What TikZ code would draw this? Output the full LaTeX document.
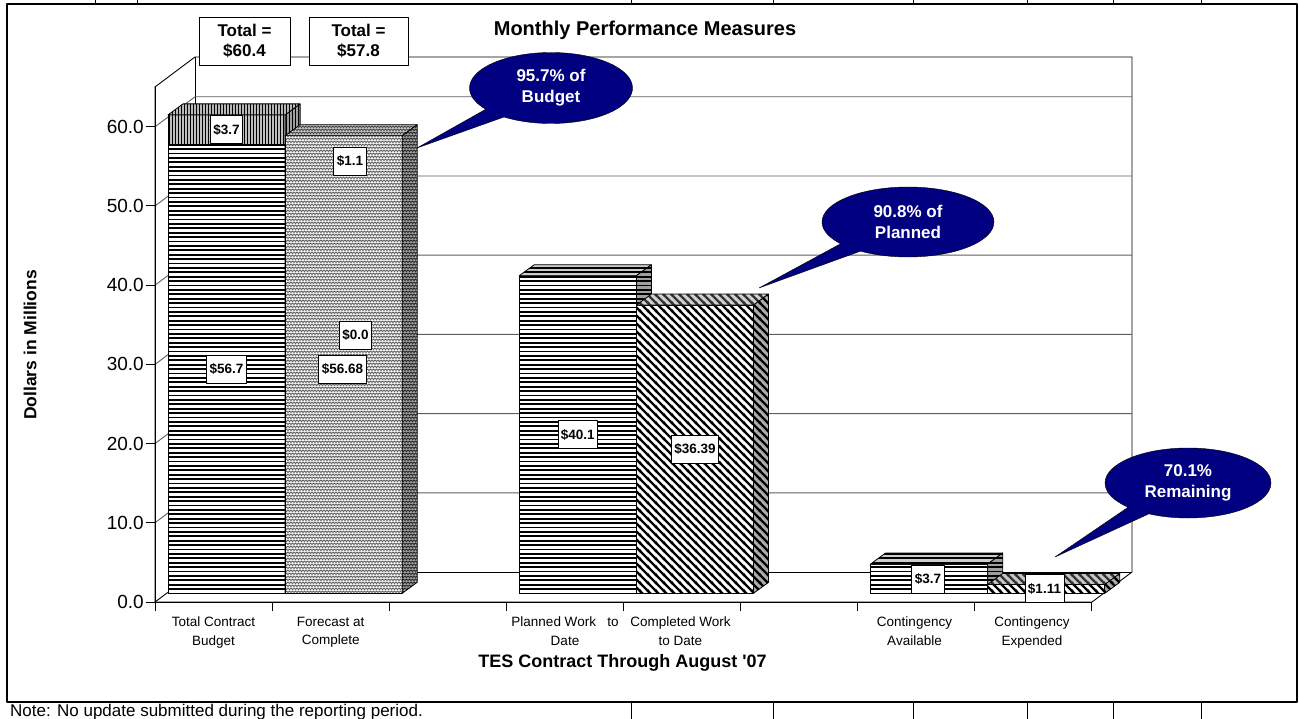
\documentclass[tikz,border=0pt]{standalone}
\usepackage{fontspec}
\setmainfont{Liberation Sans}
\usetikzlibrary{patterns,shapes.callouts}

\definecolor{navy}{RGB}{0,0,128}
\definecolor{gridgray}{RGB}{95,95,95}

% fill patterns of the bars
\pgfdeclarepatternformonly{hstripe}{\pgfpoint{-1pt}{-1pt}}{\pgfpoint{5.4pt}{5.4pt}}{\pgfpoint{4.4pt}{4.4pt}}{%
  \pgfsetlinewidth{1.8pt}%
  \pgfpathmoveto{\pgfpoint{-1pt}{2.2pt}}\pgfpathlineto{\pgfpoint{5.4pt}{2.2pt}}%
  \pgfusepath{stroke}}
\pgfdeclarepatternformonly{vstripe}{\pgfpoint{-1pt}{-1pt}}{\pgfpoint{4pt}{4pt}}{\pgfpoint{3pt}{3pt}}{%
  \pgfsetlinewidth{1.1pt}%
  \pgfpathmoveto{\pgfpoint{1.5pt}{-1pt}}\pgfpathlineto{\pgfpoint{1.5pt}{4pt}}%
  \pgfusepath{stroke}}
\pgfdeclarepatternformonly{dstripe}{\pgfpoint{-1pt}{-1pt}}{\pgfpoint{9pt}{9pt}}{\pgfpoint{8pt}{8pt}}{%
  \pgfsetlinewidth{2.4pt}%
  \pgfpathmoveto{\pgfpoint{-1pt}{9pt}}\pgfpathlineto{\pgfpoint{9pt}{-1pt}}%
  \pgfpathmoveto{\pgfpoint{-1pt}{1pt}}\pgfpathlineto{\pgfpoint{1pt}{-1pt}}%
  \pgfpathmoveto{\pgfpoint{7pt}{9pt}}\pgfpathlineto{\pgfpoint{9pt}{7pt}}%
  \pgfusepath{stroke}}
\pgfdeclarepatternformonly{weave}{\pgfpoint{-1pt}{-1pt}}{\pgfpoint{7pt}{7pt}}{\pgfpoint{6pt}{6pt}}{%
  \pgfsetlinewidth{0.9pt}%
  \pgfpathmoveto{\pgfpoint{0pt}{0.5pt}}\pgfpathlineto{\pgfpoint{1.5pt}{2pt}}%
  \pgfpathlineto{\pgfpoint{3pt}{0.5pt}}\pgfpathlineto{\pgfpoint{4.5pt}{2pt}}%
  \pgfpathlineto{\pgfpoint{6pt}{0.5pt}}%
  \pgfpathmoveto{\pgfpoint{0pt}{5pt}}\pgfpathlineto{\pgfpoint{1.5pt}{3.5pt}}%
  \pgfpathlineto{\pgfpoint{3pt}{5pt}}\pgfpathlineto{\pgfpoint{4.5pt}{3.5pt}}%
  \pgfpathlineto{\pgfpoint{6pt}{5pt}}%
  \pgfusepath{stroke}}

\tikzset{
  face/.style n args={3}{draw=black, line width=0.8pt, preaction={fill=#1}, pattern=#2, pattern color=#3},
  grid/.style={draw=gridgray, line width=0.9pt},
  datalbl/.style={draw, fill=white, line width=0.8pt, font=\bfseries\fontsize{13.5}{16}\selectfont,
    inner xsep=3pt, minimum height=28pt},
  totalbox/.style={draw, fill=white, line width=0.9pt, align=center, font=\bfseries\fontsize{17}{19.5}\selectfont,
    minimum height=48pt},
  bubble/.style={ellipse callout, draw=black, fill=navy, text=white, align=center, inner sep=0pt,
    font=\bfseries\fontsize{17}{21}\selectfont, callout pointer arc=18},
  ticklbl/.style={anchor=east, font=\fontsize{19}{22}\selectfont, inner sep=1pt},
  catlbl/.style={anchor=north, align=center, font=\fontsize{13.5}{18.5}\selectfont, inner sep=0pt}
}

\begin{document}
\begin{tikzpicture}[x=1pt,y=-1pt,line join=round]
\useasboundingbox (0,0) rectangle (1299,719);

% sheet frame and table rows
\draw[line width=1.6pt] (7,4) rectangle (1297,702);
\foreach \x in {95,137,631,773,913,1027,1113,1201}
  \draw[line width=1pt] (\x,0) -- (\x,4);
\foreach \x in {631,773,913,1027,1113,1201}
  \draw[line width=1pt] (\x,702) -- (\x,719);

% walls and floor
\draw[fill=white, line width=0.9pt] (155,602) -- (155,87) -- (195,57) -- (1132,57) -- (1132,572) -- (1092,602) -- cycle;
\draw[line width=0.9pt] (195,57) -- (195,572) -- (1132,572);
\draw[line width=0.9pt] (155,602) -- (195,572);
\foreach \k in {1,...,6}
  \draw[grid] (155,{602-79.2*\k}) -- (195,{572-79.2*\k}) -- (1132,{572-79.2*\k});

% axes
\draw[line width=1pt] (155,87) -- (155,602) -- (1092,602);
\foreach \k/\v in {0/0.0,1/10.0,2/20.0,3/30.0,4/40.0,5/50.0,6/60.0} {
  \draw[line width=1pt] (146,{602-79.2*\k}) -- (155,{602-79.2*\k});
  \node[ticklbl] (y\k) at (145,{602-79.2*\k}) {\v};
}
\foreach \j in {0,...,8}
  \draw[line width=1pt] ({155+117.1*\j},602) -- ({155+117.1*\j},611);

% Total Contract Budget
\draw[face={white}{hstripe}{black}] (168,144.2) rectangle (285.1,593.3);
\draw[face={gray!75}{hstripe}{black}] (285.1,593.3) -- (300.1,582.3) -- (300.1,133.2) -- (285.1,144.2) -- cycle;
\draw[face={gray!50}{vstripe}{black}] (168,114.9) rectangle (285.1,144.2);
\draw[face={gray!75}{vstripe}{black}] (285.1,144.2) -- (300.1,133.2) -- (300.1,103.9) -- (285.1,114.9) -- cycle;
\draw[face={gray!55}{vstripe}{black}] (168,114.9) -- (183,103.9) -- (300.1,103.9) -- (285.1,114.9) -- cycle;

% Forecast at Complete
\draw[face={gray!8}{weave}{gray!75!black}] (285.1,135.7) rectangle (402.2,593.3);
\draw[face={gray!45}{weave}{gray!55!black}] (285.1,135.7) -- (300.1,124.7) -- (417.2,124.7) -- (402.2,135.7) -- cycle;
\draw[face={gray!75}{weave}{black!85}] (402.2,593.3) -- (417.2,582.3) -- (417.2,124.7) -- (402.2,135.7) -- cycle;

% Planned Work to Date
\draw[face={white}{hstripe}{black}] (519.3,275.7) rectangle (636.4,593.3);
\draw[face={gray!40}{hstripe}{black}] (519.3,275.7) -- (534.3,264.7) -- (651.4,264.7) -- (636.4,275.7) -- cycle;
\draw[face={gray!75}{hstripe}{black}] (636.4,593.3) -- (651.4,582.3) -- (651.4,264.7) -- (636.4,275.7) -- cycle;

% Completed Work to Date
\draw[face={white}{dstripe}{black}] (636.4,305.1) rectangle (753.5,593.3);
\draw[face={gray!35}{dstripe}{black!80}] (636.4,305.1) -- (651.4,294.1) -- (768.5,294.1) -- (753.5,305.1) -- cycle;
\draw[face={gray!65}{dstripe}{black}] (753.5,593.3) -- (768.5,582.3) -- (768.5,294.1) -- (753.5,305.1) -- cycle;

% Contingency Available
\draw[face={white}{hstripe}{black}] (870.6,564) rectangle (987.7,593.3);
\draw[face={gray!40}{hstripe}{black}] (870.6,564) -- (885.6,553) -- (1002.7,553) -- (987.7,564) -- cycle;
\draw[face={gray!75}{hstripe}{black}] (987.7,593.3) -- (1002.7,582.3) -- (1002.7,553) -- (987.7,564) -- cycle;

% Contingency Expended
\draw[face={white}{dstripe}{black}] (987.7,584.5) rectangle (1104.8,593.3);
\draw[face={gray!45}{dstripe}{black!80}] (987.7,584.5) -- (1002.7,573.5) -- (1119.8,573.5) -- (1104.8,584.5) -- cycle;
\draw[face={gray!65}{dstripe}{black}] (1104.8,593.3) -- (1119.8,582.3) -- (1119.8,573.5) -- (1104.8,584.5) -- cycle;

% data labels
\node[datalbl] (tcbtop) at (226.5,129.6) {\$3.7};
\node[datalbl] (tcb) at (226.5,369) {\$56.7};
\node[datalbl] (factop) at (350,161) {\$1.1};
\node[datalbl] (facmid) at (355.5,335) {\$0.0};
\node[datalbl] (fac) at (342.5,369) {\$56.68};
\node[datalbl] (pwd) at (577.8,434.5) {\$40.1};
\node[datalbl] (cwd) at (694.9,449) {\$36.39};
\node[datalbl] (cav) at (928,579) {\$3.7};
\node[datalbl] (cexp) at (1044.5,588.6) {\$1.11};

% totals and title
\node[totalbox, minimum width=91pt] (total1) at (244.5,41) {Total =\\\$60.4};
\node[totalbox, minimum width=99pt] (total2) at (358.5,41) {Total =\\\$57.8};
\node[font=\bfseries\fontsize{20}{24}\selectfont] (title) at (645,30.5) {Monthly Performance Measures};

% callouts
\node[bubble, minimum width=163pt, minimum height=71pt, callout absolute pointer={(417,148)}] (budget) at (551,88) {95.7\% of\\Budget};
\node[bubble, minimum width=172pt, minimum height=70pt, callout absolute pointer={(759,288)}] (planned) at (908,222) {90.8\% of\\Planned};
\node[bubble, minimum width=166pt, minimum height=70pt, callout absolute pointer={(1055,557)}] (remaining) at (1188,483) {70.1\%\\Remaining};

% axis titles and categories
\node[rotate=90, font=\bfseries\fontsize{17.5}{20}\selectfont] (ytitle) at (30,345) {Dollars in Millions};
\node[catlbl] (cat1) at (213.5,617) {Total Contract\\Budget};
\node[catlbl] (cat2) at (330.7,617) {Forecast at\\Complete};
\node[catlbl] (cat4) at (565,617) {Planned Work\ \ \ to\\Date};
\node[catlbl] (cat5) at (680.5,617) {Completed Work\\to Date};
\node[catlbl] (cat7) at (914.5,617) {Contingency\\Available};
\node[catlbl] (cat8) at (1032,617) {Contingency\\Expended};
\node[font=\bfseries\fontsize{18}{21}\selectfont] (xtitle) at (622.5,663) {TES Contract Through August \textquotesingle07};

% note row
\node[anchor=base west, inner sep=0pt, font=\fontsize{17}{20}\selectfont] (note) at (10,716.5) {Note: No update submitted during the reporting period.};
\end{tikzpicture}
\end{document}
